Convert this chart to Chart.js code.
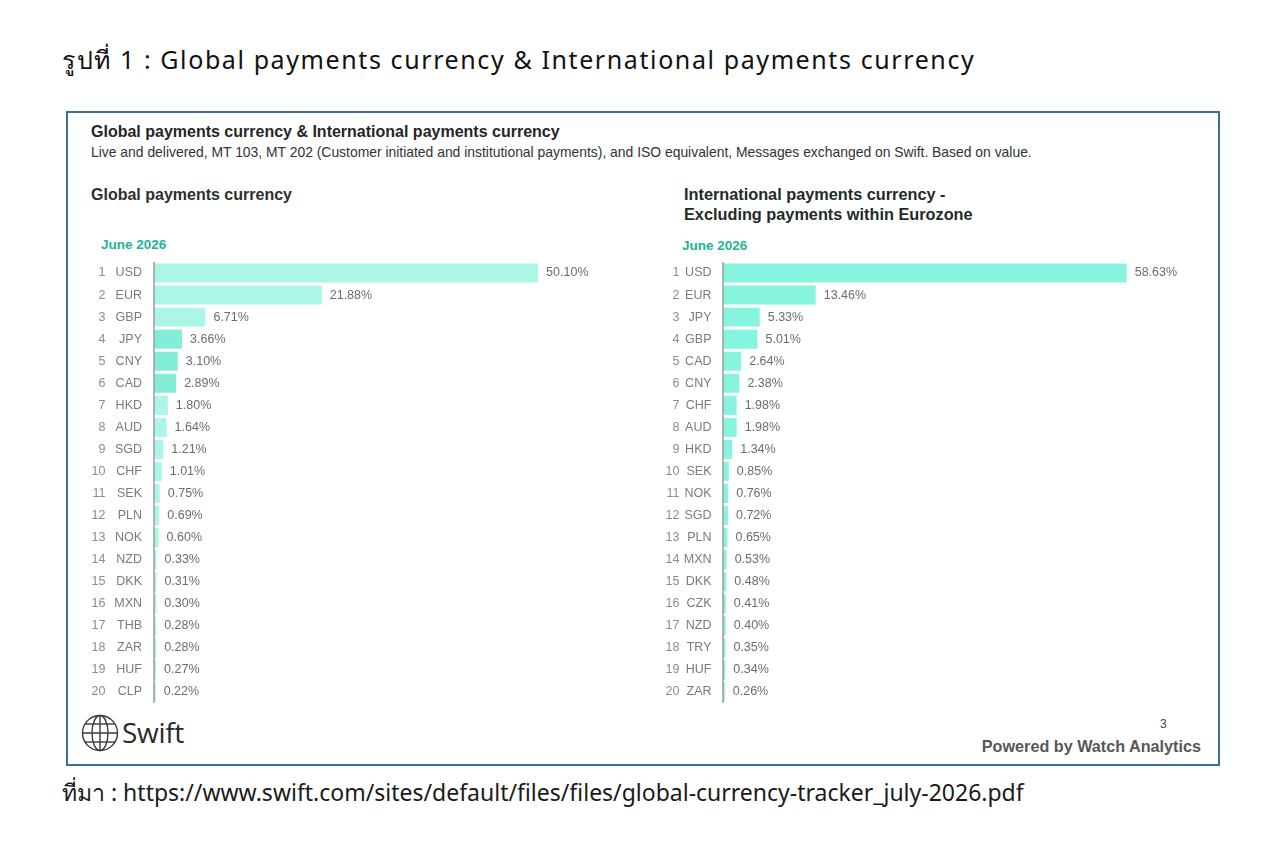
<!DOCTYPE html>
<html>
<head>
<meta charset="utf-8">
<script src="https://cdn.jsdelivr.net/npm/chart.js@4.4.1/dist/chart.umd.min.js"></script>
<style>
  html, body { margin: 0; padding: 0; background: #fff; }
  body { width: 1280px; height: 864px; position: relative; overflow: hidden; font-family: "Liberation Sans", Arial, sans-serif; }
  .abs { position: absolute; white-space: nowrap; }
  #fig-title { left: 62px; top: 40px; font-family: "Noto Sans", "Open Sans", sans-serif; font-size: 25px; letter-spacing: 1.6px; color: #111; }
  #frame { left: 66px; top: 111px; width: 1150px; height: 651px; border: 2px solid #3d6f93; background: #fff; }
  #main-title { left: 91px; top: 123px; font-size: 16px; font-weight: bold; color: #262626; }
  #sub-title { left: 91px; top: 144px; font-size: 13.9px; color: #333; }
  .head { font-weight: bold; color: #2b2f2e; line-height: 20px; }
  #head-left { left: 91px; top: 185px; font-size: 16px; }
  #head-right { left: 684px; top: 184px; font-size: 16.3px; color: #1e2b28; }
  .period { font-size: 13.5px; font-weight: bold; color: #22b39a; }
  #period-left { left: 101px; top: 237px; }
  #period-right { left: 682px; top: 238px; }
  canvas.chart { position: absolute; }
  #c-left { left: 80px; top: 256px; }
  #c-right { left: 655px; top: 256px; }
  #logo { left: 81px; top: 714px; }
  #logo-text { left: 122px; top: 713px; font-family: "Open Sans", "Noto Sans", sans-serif; font-size: 28px; color: #2a2a2a; letter-spacing: -0.3px; }
  #page-no { left: 1160px; top: 717px; font-size: 12px; color: #444; }
  #powered { right: 79px; top: 737px; font-size: 16.2px; font-weight: bold; color: #575757; }
  #source { left: 62px; top: 775px; font-family: "Noto Sans", "Open Sans", sans-serif; font-size: 23px; color: #1a1a1a; }
</style>
</head>
<body>
<div id="fig-title" class="abs">รูปที่ 1 : Global payments currency &amp; International payments currency</div>
<div id="frame" class="abs"></div>
<div id="main-title" class="abs">Global payments currency &amp; International payments currency</div>
<div id="sub-title" class="abs">Live and delivered, MT 103, MT 202 (Customer initiated and institutional payments), and ISO equivalent, Messages exchanged on Swift. Based on value.</div>
<div id="head-left" class="abs head">Global payments currency</div>
<div id="head-right" class="abs head">International payments currency -<br>Excluding payments within Eurozone</div>
<div id="period-left" class="abs period">June 2026</div>
<div id="period-right" class="abs period">June 2026</div>

<canvas id="c-left" class="chart" width="560" height="456"></canvas>
<canvas id="c-right" class="chart" width="560" height="456"></canvas>

<svg id="logo" class="abs" width="38" height="38" viewBox="0 0 38 38">
  <g fill="none" stroke="#3a3a3a" stroke-width="1.4">
    <circle cx="19" cy="19" r="17.5"/>
    <ellipse cx="19" cy="19" rx="8" ry="17.5"/>
    <line x1="19" y1="1.5" x2="19" y2="36.5"/>
    <line x1="1.5" y1="19" x2="36.5" y2="19"/>
    <line x1="4" y1="10" x2="34" y2="10"/>
    <line x1="4" y1="28" x2="34" y2="28"/>
  </g>
</svg>
<div id="logo-text" class="abs">Swift</div>
<div id="page-no" class="abs">3</div>
<div id="powered" class="abs">Powered by Watch Analytics</div>
<div id="source" class="abs">ที่มา : https://www.swift.com/sites/default/files/files/global-currency-tracker_july-2026.pdf</div>

<script>
// Data - Global payments currency (June 2026)
const globalCodes = ['USD', 'EUR', 'GBP', 'JPY', 'CNY', 'CAD', 'HKD', 'AUD', 'SGD', 'CHF',
                     'SEK', 'PLN', 'NOK', 'NZD', 'DKK', 'MXN', 'THB', 'ZAR', 'HUF', 'CLP'];
const globalShares = [50.10, 21.88, 6.71, 3.66, 3.10, 2.89, 1.80, 1.64, 1.21, 1.01,
                      0.75, 0.69, 0.60, 0.33, 0.31, 0.30, 0.28, 0.28, 0.27, 0.22];

// Data - International payments currency, excluding Eurozone (June 2026)
const intlCodes = ['USD', 'EUR', 'JPY', 'GBP', 'CAD', 'CNY', 'CHF', 'AUD', 'HKD', 'SEK',
                   'NOK', 'SGD', 'PLN', 'MXN', 'DKK', 'CZK', 'NZD', 'TRY', 'HUF', 'ZAR'];
const intlShares = [58.63, 13.46, 5.33, 5.01, 2.64, 2.38, 1.98, 1.98, 1.34, 0.85,
                    0.76, 0.72, 0.65, 0.53, 0.48, 0.41, 0.40, 0.35, 0.34, 0.26];

const LABEL_FONT = '12.5px "Liberation Sans", Arial, sans-serif';

// draws rank, currency code, axis line and value labels using the chart's own scale
const rowLabels = {
    id: 'rowLabels',
    afterDatasetsDraw(chart, args, opts) {
        const { ctx, chartArea } = chart;
        const yScale = chart.scales.y;
        const meta = chart.getDatasetMeta(0);
        const values = chart.data.datasets[0].data;
        ctx.save();
        ctx.strokeStyle = '#9c9c9c';
        ctx.lineWidth = 1.5;
        ctx.beginPath();
        ctx.moveTo(chartArea.left, chartArea.top);
        ctx.lineTo(chartArea.left, chartArea.bottom);
        ctx.stroke();

        ctx.font = LABEL_FONT;
        ctx.textBaseline = 'middle';
        chart.data.labels.forEach((code, i) => {
            const py = yScale.getPixelForValue(i);
            ctx.textAlign = 'right';
            ctx.fillStyle = '#8c8c8c';
            ctx.fillText(String(i + 1), opts.rankX, py);
            ctx.fillStyle = '#7b7b7b';
            ctx.fillText(code, opts.codeX, py);
            ctx.textAlign = 'left';
            ctx.fillStyle = '#6c6c6c';
            ctx.fillText(values[i].toFixed(2) + '%', meta.data[i].x + 8, py);
        });
        ctx.restore();
    }
};

function makeChart(id, codes, shares, colors, xMax, padding, rankX, codeX) {
    const ctx = document.getElementById(id).getContext('2d');
    return new Chart(ctx, {
        type: 'bar',
        data: {
            labels: codes,
            datasets: [{
                data: shares,
                backgroundColor: colors,
                borderWidth: 0,
                barPercentage: 0.86,
                categoryPercentage: 1.0
            }]
        },
        options: {
            indexAxis: 'y',
            responsive: false,
            animation: false,
            layout: { padding: padding },
            plugins: {
                legend: { display: false },
                tooltip: { enabled: false },
                rowLabels: { rankX: rankX, codeX: codeX }
            },
            scales: {
                x: { display: false, min: 0, max: xMax },
                y: { display: false }
            }
        },
        plugins: [rowLabels]
    });
}

const leftColors = globalShares.map((v, i) => (i >= 3 && i <= 5) ? '#82eed8' : '#abf6e7');
const rightColors = intlShares.map(() => '#87f4df');

makeChart('c-left', globalCodes, globalShares, leftColors, 60,
    { left: 74, right: 26, top: 6, bottom: 9 }, 25.5, 62);
makeChart('c-right', intlCodes, intlShares, rightColors, 70,
    { left: 68, right: 10, top: 6, bottom: 9 }, 24.5, 56.5);
</script>
</body>
</html>
